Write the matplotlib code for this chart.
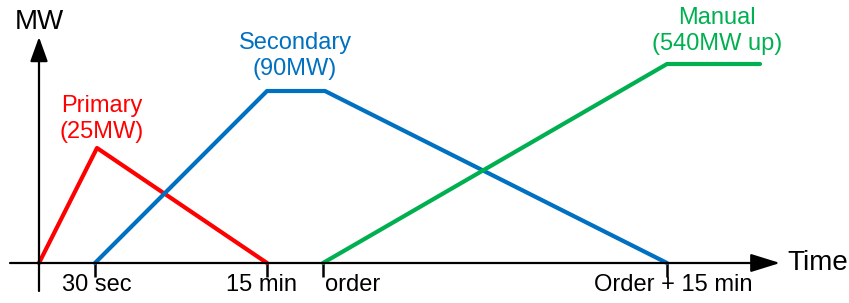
import matplotlib
matplotlib.use("Agg")
import matplotlib.pyplot as plt

plt.rcParams['font.family'] = ['Liberation Sans', 'DejaVu Sans']

# Schematic time positions (arbitrary units along the time axis)
tick_pos = [56, 228, 284, 628]
tick_labels = ["30 sec", "15 min", "order", "Order + 15 min"]

# Response profiles (schematic MW height)
primary_t = [0, 58, 228]
primary_mw = [0, 115, 0]
secondary_t = [56, 228, 286, 628]
secondary_mw = [0, 172, 172, 0]
manual_t = [284, 628, 721]
manual_mw = [0, 199, 199]

RED = "#FF0000"
BLUE = "#0070C0"
GREEN = "#00B050"
FS = 17

fig = plt.figure(figsize=(8.49, 3.03), dpi=100)
ax = fig.add_axes([0, 0, 1, 1])
ax.set_xlim(-39, 810)
ax.set_ylim(-40, 263)
ax.axis("off")

# axes with arrows
arrow = dict(arrowstyle="-|>,head_length=0.9,head_width=0.28", lw=1.6,
             color="black", mutation_scale=20, shrinkA=0, shrinkB=0)
ax.annotate("", xy=(741, 0), xytext=(-29, 0), arrowprops=arrow)
ax.annotate("", xy=(0, 226), xytext=(0, -28),
            arrowprops=dict(arrow, arrowstyle="-|>,head_length=0.75,head_width=0.27"))
ax.vlines(tick_pos, -14, 0, color="black", lw=1.8)

# series
ax.plot(primary_t, primary_mw, color=RED, lw=3, solid_capstyle="round")
ax.plot(secondary_t, secondary_mw, color=BLUE, lw=3, solid_capstyle="round")
ax.plot(manual_t, manual_mw, color=GREEN, lw=3, solid_capstyle="round")

# labels
ax.text(0, 241, "MW", fontsize=20, ha="center", va="center")
ax.text(748, 0, "Time", fontsize=20, ha="left", va="center")
ax.text(23, -22, tick_labels[0], fontsize=FS, ha="left", va="center")
ax.text(223, -22, tick_labels[1], fontsize=FS, ha="center", va="center")
ax.text(286, -22, tick_labels[2], fontsize=FS, ha="left", va="center")
ax.text(634, -22, tick_labels[3], fontsize=FS, ha="center", va="center")

ax.text(63, 144, "Primary\n(25MW)", fontsize=FS, color=RED,
        ha="center", va="center", linespacing=1.2)
ax.text(256, 207, "Secondary\n(90MW)", fontsize=FS, color=BLUE,
        ha="center", va="center", linespacing=1.2)
ax.text(678, 232, "Manual\n(540MW up)", fontsize=FS, color=GREEN,
        ha="center", va="center", linespacing=1.2)

fig.savefig("out.png", dpi=100)
